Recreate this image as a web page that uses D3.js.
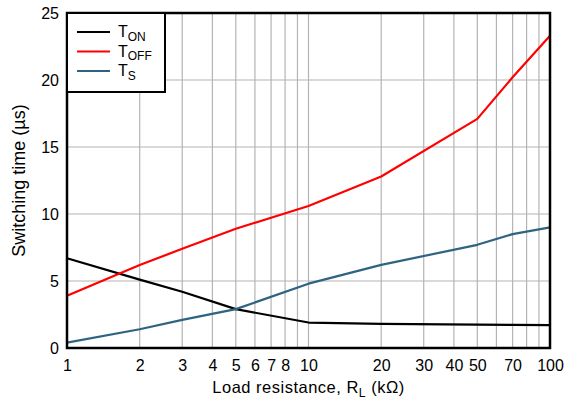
<!DOCTYPE html>
<html><head><meta charset="utf-8">
<script src="https://cdn.jsdelivr.net/npm/d3@7"></script>
<style>body{margin:0;background:#fff}svg{display:block;font-family:"Liberation Sans",Arial,sans-serif}</style>
</head><body><svg id="c" width="566" height="402"></svg>
<script>
const xValues = [1, 2, 3, 5, 10, 20, 50, 70, 100];
const tOn  = [6.7, 5.1, 4.2, 2.9, 1.9, 1.8, 1.75, 1.72, 1.7];
const tOff = [3.9, 6.2, 7.4, 8.9, 10.6, 12.8, 17.1, 20.2, 23.3];
const tS   = [0.4, 1.4, 2.1, 2.9, 4.8, 6.2, 7.7, 8.5, 9.0];
const xTickLabels = [1, 2, 3, 4, 5, 6, 7, 8, 10, 20, 30, 40, 50, 70, 100];
const xGrid = [2,3,4,5,6,7,8,9,10,20,30,40,50,60,70,80,90];
const yTicks = [0, 5, 10, 15, 20, 25];
const seriesNames = ["ON", "OFF", "S"];
const seriesColors = ["#000000", "#ff0000", "#2e6381"];

const svg = d3.select("#c");
const m = {l:67, r:550, t:13, b:348};
const x = d3.scaleLog().domain([1,100]).range([m.l, m.r]);
const y = d3.scaleLinear().domain([0,25]).range([m.b, m.t]);

// grid
svg.append("g").selectAll("line").data(xGrid).join("line")
  .attr("x1", d=>x(d)).attr("x2", d=>x(d)).attr("y1", m.t).attr("y2", m.b)
  .attr("stroke", "#b4b4b4").attr("stroke-width", 1.2);
svg.append("g").selectAll("line").data(yTicks.filter(d=>d>0&&d<25)).join("line")
  .attr("x1", m.l).attr("x2", m.r).attr("y1", d=>y(d)).attr("y2", d=>y(d))
  .attr("stroke", "#b4b4b4").attr("stroke-width", 1.2);

// axes labels via d3 axes
const xa = svg.append("g").attr("transform", `translate(0,${m.b})`)
  .call(d3.axisBottom(x).tickValues(xTickLabels).tickFormat(d3.format("d")).tickSize(0).tickPadding(12));
xa.select(".domain").remove();
xa.selectAll("text").attr("font-size", 16).attr("fill", "#000").attr("font-family", "Liberation Sans, Arial, sans-serif");
const ya = svg.append("g").attr("transform", `translate(${m.l},0)`)
  .call(d3.axisLeft(y).tickValues(yTicks).tickSize(0).tickPadding(8));
ya.select(".domain").remove();
ya.selectAll("text").attr("font-size", 16).attr("fill", "#000").attr("font-family", "Liberation Sans, Arial, sans-serif");

// lines
const series = [tOn, tOff, tS];
const line = d3.line().x((d,i)=>x(xValues[i])).y(d=>y(d));
series.forEach((s, k) => {
  svg.append("path").datum(s).attr("d", line).attr("fill", "none")
    .attr("stroke", seriesColors[k]).attr("stroke-width", 2.2).attr("stroke-linejoin", "round");
});

// frame
svg.append("rect").attr("x", m.l).attr("y", m.t).attr("width", m.r-m.l).attr("height", m.b-m.t)
  .attr("fill", "none").attr("stroke", "#000").attr("stroke-width", 2.5);

// legend
const lg = svg.append("g");
lg.append("rect").attr("x", m.l).attr("y", m.t).attr("width", 98).attr("height", 79)
  .attr("fill", "#fff").attr("stroke", "#000").attr("stroke-width", 2);
seriesNames.forEach((n, k) => {
  const yy = 32 + k*19.5;
  lg.append("line").attr("x1", 77).attr("x2", 110).attr("y1", yy).attr("y2", yy)
    .attr("stroke", seriesColors[k]).attr("stroke-width", 2.2);
  const t = lg.append("text").attr("x", 118).attr("y", yy+5).attr("font-size", 16).attr("fill", "#000");
  t.append("tspan").text("T");
  t.append("tspan").attr("dy", 3.5).attr("font-size", 12).text(n);
});

// axis titles
const xt = svg.append("text").attr("x", (m.l+m.r)/2).attr("y", 393).attr("text-anchor", "middle")
  .attr("font-size", 16.5).attr("letter-spacing", 0.5).attr("fill", "#000");
xt.append("tspan").text("Load resistance, R");
xt.append("tspan").attr("dy", 3.5).attr("font-size", 12).text("L");
xt.append("tspan").attr("dy", -3.5).text(" (kΩ)");

svg.append("text").attr("transform", `translate(25,${(13+348)/2}) rotate(-90)`)
  .attr("text-anchor", "middle").attr("font-size", 18).attr("fill", "#000").text("Switching time (µs)");
</script></body></html>
